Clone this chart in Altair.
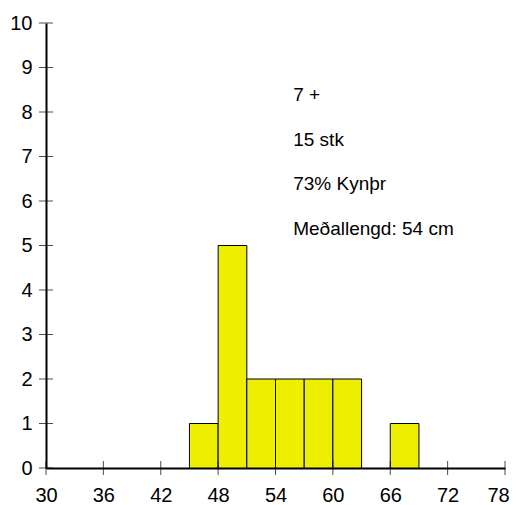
import altair as alt
import pandas as pd

# ---- data ----
bin_start = [45, 48, 51, 54, 57, 60, 66]
bin_end = [48, 51, 54, 57, 60, 63, 69]
counts = [1, 5, 2, 2, 2, 2, 1]
x_ticks = [30, 36, 42, 48, 54, 60, 66, 72, 78]
y_ticks = list(range(0, 11))
notes = ["7 +", "15 stk", "73% Kynþr", "Meðallengd: 54 cm"]

X_MIN, X_MAX = 30, 78
Y_MIN, Y_MAX = 0, 10
FONT = "Liberation Sans"
FS = 20

bars_df = pd.DataFrame({"start": bin_start, "end": bin_end, "count": counts,
                        "base": [Y_MIN] * len(counts)})
xt_df = pd.DataFrame({"xv": x_ticks, "yv": [Y_MIN] * len(x_ticks)})
yt_df = pd.DataFrame({"xv": [X_MIN] * len(y_ticks), "yv": y_ticks})
note_x = 55.85
notes_df = pd.DataFrame({"label": notes,
                         "xv": [note_x] * len(notes),
                         "yv": [8.38 - i for i in range(len(notes))]})

xscale = alt.Scale(domain=[X_MIN, X_MAX], nice=False, zero=False)
yscale = alt.Scale(domain=[Y_MIN, Y_MAX], nice=False, zero=False)

xaxis = alt.Axis(values=x_ticks, title=None, ticks=False, grid=False,
                 domainColor="black", domainWidth=2, labelFont=FONT,
                 labelFontSize=FS, labelColor="black", labelPadding=17,
                 labelFlush=False, labelOverlap=False,
                 labelOffset={"condition": {"test": f"datum.value == {X_MAX}", "value": -7},
                              "value": 0})
yaxis = alt.Axis(values=y_ticks, title=None, ticks=False, grid=False,
                 domainColor="black", domainWidth=2, labelFont=FONT,
                 labelFontSize=FS, labelColor="black", labelPadding=14,
                 labelFlush=False, labelOverlap=False)

bars = alt.Chart(bars_df).mark_bar(
    color="#EEEE00", stroke="black", strokeWidth=1
).encode(
    x=alt.X("start:Q", scale=xscale, axis=xaxis),
    x2="end:Q",
    y=alt.Y("count:Q", scale=yscale, axis=yaxis),
    y2="base:Q",
)

xt = alt.Chart(xt_df).mark_tick(orient="vertical", size=14, thickness=1, color="black").encode(
    x=alt.X("xv:Q", scale=xscale, axis=xaxis),
    y=alt.Y("yv:Q", scale=yscale, axis=yaxis),
)
yt = alt.Chart(yt_df).mark_tick(orient="horizontal", size=14, thickness=1, color="black").encode(
    x=alt.X("xv:Q", scale=xscale, axis=xaxis),
    y=alt.Y("yv:Q", scale=yscale, axis=yaxis),
)

txt = alt.Chart(notes_df).mark_text(
    align="left", baseline="middle", font=FONT, fontSize=19, color="black"
).encode(
    x=alt.X("xv:Q", scale=xscale, axis=xaxis),
    y=alt.Y("yv:Q", scale=yscale, axis=yaxis),
    text="label:N",
)

chart = alt.layer(bars, xt, yt, txt).properties(
    width=459, height=445,
    autosize=alt.AutoSizeParams(type="none"),
    padding={"left": 38, "top": 15, "right": 5, "bottom": 37},
    background="white",
).configure_view(stroke=None)

chart.save("out.html", embed_options={"renderer": "svg", "actions": False})
